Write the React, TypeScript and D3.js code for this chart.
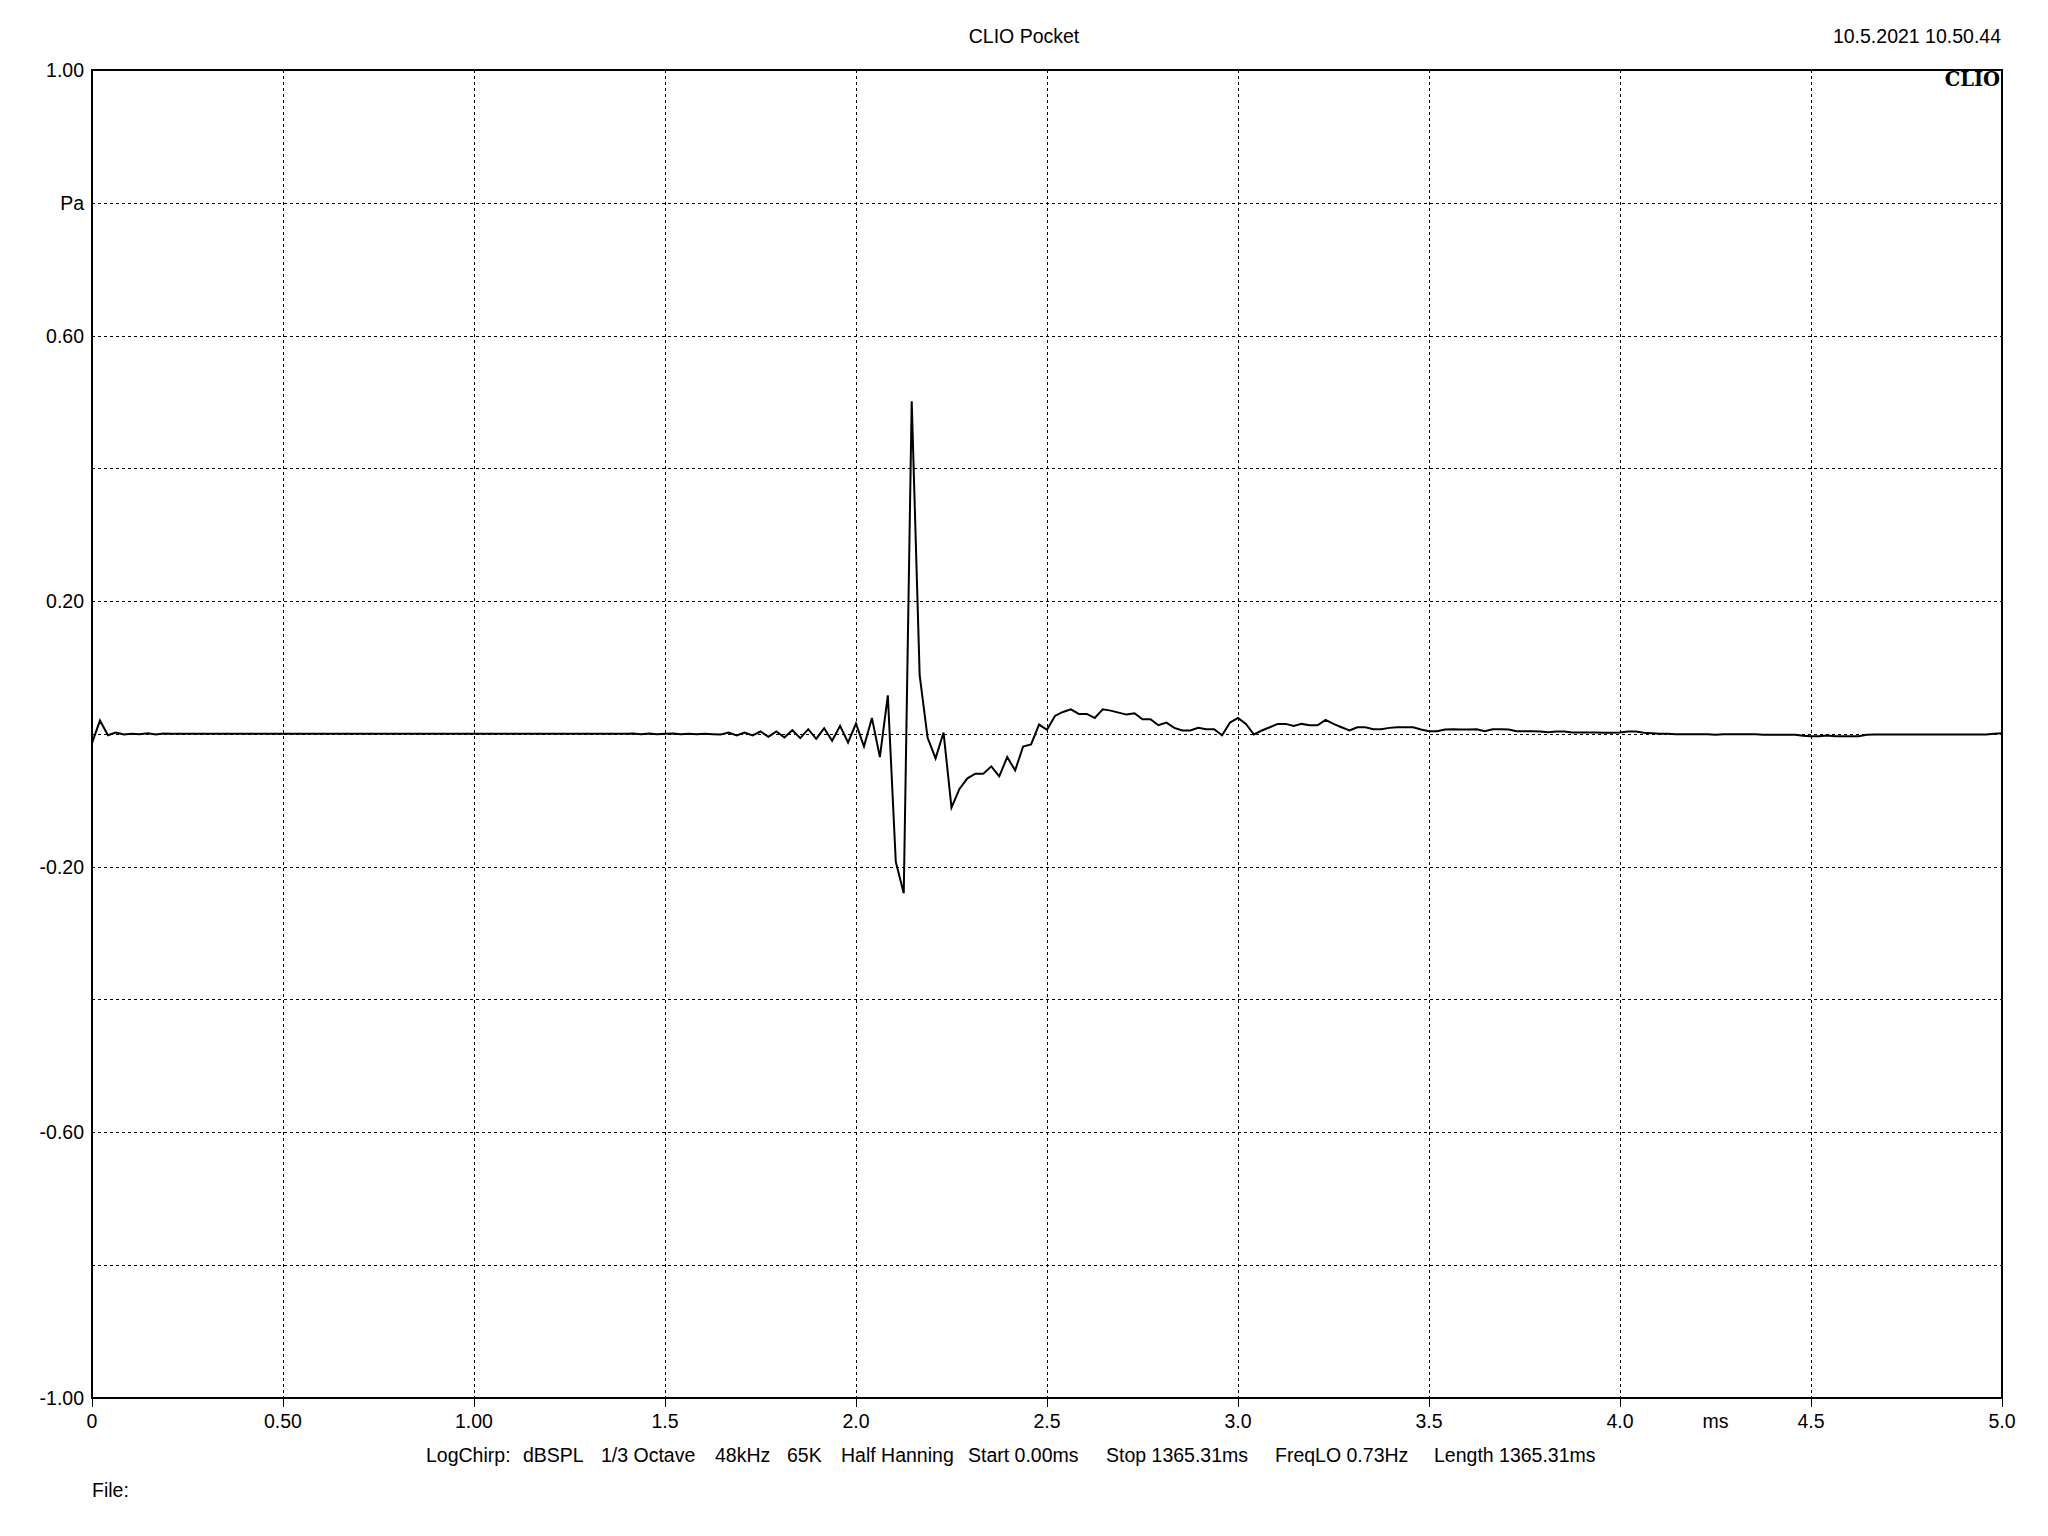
import React from "react";
import * as d3 from "d3";

// Sample rate 48 kHz -> one sample every 1/48 ms
const sampleRateKHz = 48;

// Impulse response (Pa), samples 0..240 (0..5 ms)
const pressurePa: number[] = [
  -0.014, 0.020, -0.002, 0.002, -0.001, 0.000, -0.0005, 0.001, -0.001, 0.0005,
  0, 0, 0, 0, 0, 0, 0, 0, 0, 0,
  0, 0, 0, 0, 0, 0, 0, 0, 0, 0,
  0, 0, 0, 0, 0, 0, 0, 0, 0, 0,
  0, 0, 0, 0, 0, 0, 0, 0, 0, 0,
  0, 0, 0, 0, 0, 0, 0, 0, 0, 0,
  0, 0, 0, 0, 0, 0, 0.0003, 0, 0.0005, -0.0005,
  0.0005, -0.0005, 0, 0.0005, -0.0005, 0, -0.0005, 0, -0.0005, -0.001,
  0.002, -0.0025, 0.002, -0.0025, 0.0035, -0.0045, 0.0035, -0.0055, 0.0055, -0.0065,
  0.007, -0.0075, 0.0085, -0.0105, 0.012, -0.013, 0.0155, -0.019, 0.024, -0.035,
  0.058, -0.193, -0.240, 0.501, 0.088, -0.006, -0.037, 0.002, -0.111, -0.083,
  -0.067, -0.060, -0.060, -0.049, -0.064, -0.035, -0.055, -0.019, -0.016, 0.014,
  0.006, 0.027, 0.033, 0.037, 0.030, 0.030, 0.024, 0.037, 0.035, 0.032,
  0.029, 0.031, 0.022, 0.022, 0.013, 0.017, 0.009, 0.005, 0.005, 0.009,
  0.007, 0.007, -0.002, 0.017, 0.024, 0.015, -0.001, 0.005, 0.010, 0.015,
  0.015, 0.012, 0.015, 0.013, 0.013, 0.021, 0.015, 0.010, 0.005, 0.010,
  0.010, 0.007, 0.007, 0.009, 0.010, 0.010, 0.010, 0.0065, 0.004, 0.004,
  0.0065, 0.007, 0.0065, 0.0065, 0.007, 0.004, 0.007, 0.007, 0.0065, 0.004,
  0.004, 0.004, 0.0035, 0.0025, 0.0035, 0.0035, 0.002, 0.002, 0.002, 0.002,
  0.0015, 0.0015, 0.002, 0.0035, 0.0035, 0.0015, 0.001, 0, 0, -0.0005,
  -0.0005, -0.0005, -0.0005, -0.0005, -0.0015, -0.0005, -0.0005, -0.0005, -0.0005, -0.0005,
  -0.0015, -0.0015, -0.0015, -0.0015, -0.0015, -0.003, -0.0035, -0.0035, -0.0025, -0.0035,
  -0.0035, -0.0035, -0.0035, -0.0015, -0.001, -0.001, -0.001, -0.001, -0.001, -0.001,
  -0.001, -0.001, -0.001, -0.001, -0.001, -0.001, -0.001, -0.001, -0.001, 0,
  0.001,
];

const xTicks: number[] = [0, 0.5, 1.0, 1.5, 2.0, 2.5, 3.0, 3.5, 4.0, 4.5, 5.0];
const xTickLabels: string[] = ["0", "0.50", "1.00", "1.5", "2.0", "2.5", "3.0", "3.5", "4.0", "4.5", "5.0"];
const yTicks: number[] = [1.0, 0.8, 0.6, 0.4, 0.2, 0.0, -0.2, -0.4, -0.6, -0.8, -1.0];
const yTickLabels: string[] = ["1.00", "Pa", "0.60", "", "0.20", "", "-0.20", "", "-0.60", "", "-1.00"];

const infoItems: string[] = [
  "LogChirp:", "dBSPL", "1/3 Octave", "48kHz", "65K", "Half Hanning",
  "Start 0.00ms", "Stop 1365.31ms", "FreqLO 0.73Hz", "Length 1365.31ms",
];
const infoX: number[] = [426, 523, 601, 715, 787, 841, 968, 1106, 1275, 1434];

const W = 2048;
const H = 1536;
const left = 92;
const right = 2002;
const top = 70;
const bottom = 1397.7;

const FONT = "'Liberation Sans', Arial, sans-serif";
const FS = 19.5;

export default function App() {
  const x = d3.scaleLinear().domain([0, 5]).range([left, right]);
  const y = d3.scaleLinear().domain([-1, 1]).range([bottom, top]);

  const pts: [number, number][] = pressurePa.map((v, i) => [i / sampleRateKHz, v]);
  const line = d3
    .line<[number, number]>()
    .x((d) => x(d[0]))
    .y((d) => y(d[1]));

  return (
    <svg
      width={W}
      height={H}
      viewBox={`0 0 ${W} ${H}`}
      style={{ position: "absolute", left: 0, top: 0, background: "#fff" }}
    >
      <rect x={0} y={0} width={W} height={H} fill="#fff" />

      {/* grid */}
      <g stroke="#000" strokeWidth={1} strokeDasharray="3,3" shapeRendering="crispEdges">
        {xTicks.slice(1, -1).map((t) => (
          <line key={"gx" + t} x1={Math.round(x(t)) + 0.5} x2={Math.round(x(t)) + 0.5} y1={top} y2={bottom} />
        ))}
        {yTicks.slice(1, -1).map((t) => (
          <line key={"gy" + t} x1={left} x2={right} y1={Math.round(y(t)) + 0.5} y2={Math.round(y(t)) + 0.5} />
        ))}
      </g>

      {/* x ticks below axis */}
      <g stroke="#000" strokeWidth={1} shapeRendering="crispEdges">
        {xTicks.map((t) => (
          <line key={"tx" + t} x1={Math.round(x(t)) + 0.5} x2={Math.round(x(t)) + 0.5} y1={bottom} y2={bottom + 9} />
        ))}
      </g>

      {/* curve */}
      <path d={line(pts) || ""} fill="none" stroke="#000" strokeWidth={2} strokeLinejoin="miter" />

      {/* frame */}
      <rect
        x={left}
        y={top}
        width={right - left}
        height={bottom - top}
        fill="none"
        stroke="#000"
        strokeWidth={2}
        shapeRendering="crispEdges"
      />

      {/* y labels */}
      <g fontFamily={FONT} fontSize={FS} fill="#000" textAnchor="end">
        {yTicks.map((t, i) =>
          yTickLabels[i] ? (
            <text key={"yl" + t} x={84} y={y(t) + 7}>
              {yTickLabels[i]}
            </text>
          ) : null
        )}
      </g>

      {/* x labels */}
      <g fontFamily={FONT} fontSize={FS} fill="#000" textAnchor="middle">
        {xTicks.map((t, i) => (
          <text key={"xl" + t} x={x(t)} y={1427.5}>
            {xTickLabels[i]}
          </text>
        ))}
        <text x={x(4.25)} y={1427.5}>ms</text>
      </g>

      {/* header */}
      <text x={1024} y={43} fontFamily={FONT} fontSize={FS} textAnchor="middle">
        CLIO Pocket
      </text>
      <text x={2001} y={43} fontFamily={FONT} fontSize={FS} textAnchor="end">
        10.5.2021 10.50.44
      </text>
      <text
        x={2000}
        y={86}
        fontFamily="'DejaVu Serif', serif"
        fontWeight="bold"
        fontSize={19.5}
        textAnchor="end"
      >
        CLIO
      </text>

      {/* info line */}
      <g fontFamily={FONT} fontSize={FS} fill="#000">
        {infoItems.map((s, i) => (
          <text key={"info" + i} x={infoX[i]} y={1461.5}>
            {s}
          </text>
        ))}
        <text x={92} y={1497}>File:</text>
      </g>
    </svg>
  );
}
